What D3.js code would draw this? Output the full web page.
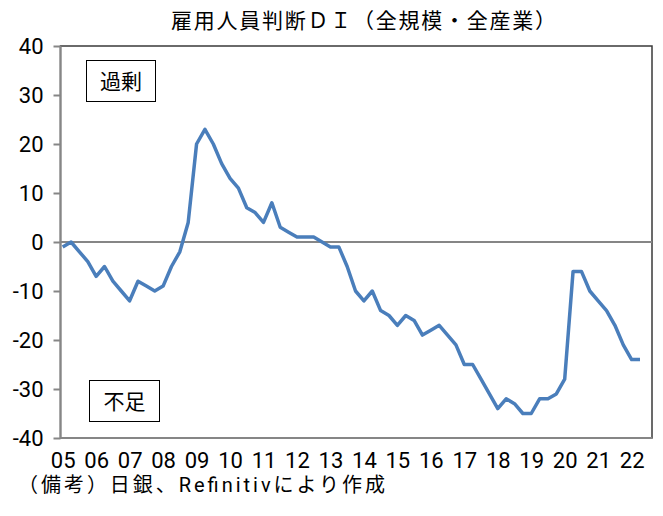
<!DOCTYPE html>
<html>
<head>
<meta charset="utf-8">
<script src="https://cdn.jsdelivr.net/npm/d3@7"></script>
<style>
  html, body { margin: 0; padding: 0; background: #fff; }
  svg { display: block; font-family: "Noto Sans CJK JP", sans-serif; }
</style>
</head>
<body>
<svg id="chart" width="663" height="516"></svg>
<script>
// ---- data ----
const title = "雇用人員判断ＤＩ（全規模・全産業）";
const note = "（備考）日銀、Refinitivにより作成";
const yearLabels = ["05","06","07","08","09","10","11","12","13","14","15","16","17","18","19","20","21","22"];
// quarterly, 2005Q1 .. 2022Q2
const diValues = [
  -1, 0, -2, -4,
  -7, -5, -8, -10,
  -12, -8, -9, -10,
  -9, -5, -2, 4,
  20, 23, 20, 16,
  13, 11, 7, 6,
  4, 8, 3, 2,
  1, 1, 1, 0,
  -1, -1, -5, -10,
  -12, -10, -14, -15,
  -17, -15, -16, -19,
  -18, -17, -19, -21,
  -25, -25, -28, -31,
  -34, -32, -33, -35,
  -35, -32, -32, -31,
  -28, -6, -6, -10,
  -12, -14, -17, -21,
  -24, -24
];
const yTicks = [40, 30, 20, 10, 0, -10, -20, -30, -40];
const labelOver = "過剰";
const labelShort = "不足";

// ---- layout ----
const svg = d3.select("#chart");
const L = 60.5, R = 652, T = 46, B = 438;
const numFont = "Roboto, 'Noto Sans CJK JP', sans-serif";
const jpFont = "'Noto Sans CJK JP', sans-serif";

const x = d3.scaleLinear().domain([0, diValues.length - 1]).range([62.7, 640]);
const y = d3.scaleLinear().domain([-40, 40]).range([B, T]);

// title
svg.append("text")
  .attr("x", 171).attr("y", 28)
  .style("font-family", jpFont)
  .style("font-size", "21px")
  .attr("fill", "#000")
  .attr("textLength", 385).attr("lengthAdjust", "spacing")
  .text(title);

// plot frame (top/right darker)
svg.append("rect")
  .attr("x", L).attr("y", T).attr("width", R - L).attr("height", B - T)
  .attr("fill", "none").attr("stroke", "#3a3a3a").attr("stroke-width", 1.5);

// zero line
svg.append("line")
  .attr("x1", L).attr("x2", R).attr("y1", y(0)).attr("y2", y(0))
  .attr("stroke", "#868686").attr("stroke-width", 2);

// y axis
const yAxis = d3.axisLeft(y).tickValues(yTicks).tickSize(7).tickPadding(10)
  .tickFormat(d => d < 0 ? "-" + Math.abs(d) : String(d));
const gy = svg.append("g").attr("transform", `translate(${L},0)`).call(yAxis);
gy.select(".domain").remove();
gy.selectAll(".tick line").attr("stroke", "#868686").attr("stroke-width", 2);
gy.selectAll(".tick text").style("font-size", "22px").style("font-family", numFont).attr("fill", "#000");

// x axis labels
const xAxis = d3.axisBottom(x)
  .tickValues(yearLabels.map((d, i) => i * 4))
  .tickSize(0).tickPadding(14)
  .tickFormat((d, i) => yearLabels[i]);
const gx = svg.append("g").attr("transform", `translate(0,${B})`).call(xAxis);
gx.select(".domain").remove();
gx.selectAll(".tick text").style("font-size", "22px").style("font-family", numFont).attr("fill", "#000");

// left & bottom axis lines (gray)
svg.append("line").attr("x1", L).attr("x2", L).attr("y1", T).attr("y2", B + 1)
  .attr("stroke", "#868686").attr("stroke-width", 2);
svg.append("line").attr("x1", L).attr("x2", R).attr("y1", B).attr("y2", B)
  .attr("stroke", "#868686").attr("stroke-width", 2);

// data line
const line = d3.line().x((d, i) => x(i)).y(d => y(d));
svg.append("path")
  .datum(diValues)
  .attr("d", line)
  .attr("fill", "none")
  .attr("stroke", "#4a7ebb")
  .attr("stroke-width", 3.5)
  .attr("stroke-linejoin", "round");

// annotation boxes
function box(x0, y0, w, h, label) {
  svg.append("rect").attr("x", x0).attr("y", y0).attr("width", w).attr("height", h)
    .attr("fill", "#fff").attr("stroke", "#000").attr("stroke-width", 1);
  svg.append("text").attr("x", x0 + w / 2).attr("y", y0 + h / 2 + 8)
    .style("font-family", jpFont).style("font-size", "21px")
    .attr("fill", "#000")
    .attr("text-anchor", "middle").text(label);
}
box(86.5, 60.5, 69, 41, labelOver);
box(89.5, 380.5, 70, 41, labelShort);

// footnote
svg.append("text")
  .attr("x", 18).attr("y", 492)
  .style("font-family", numFont)
  .style("font-size", "20px")
  .attr("fill", "#000")
  .attr("textLength", 367).attr("lengthAdjust", "spacing")
  .text(note);
</script>
</body>
</html>
